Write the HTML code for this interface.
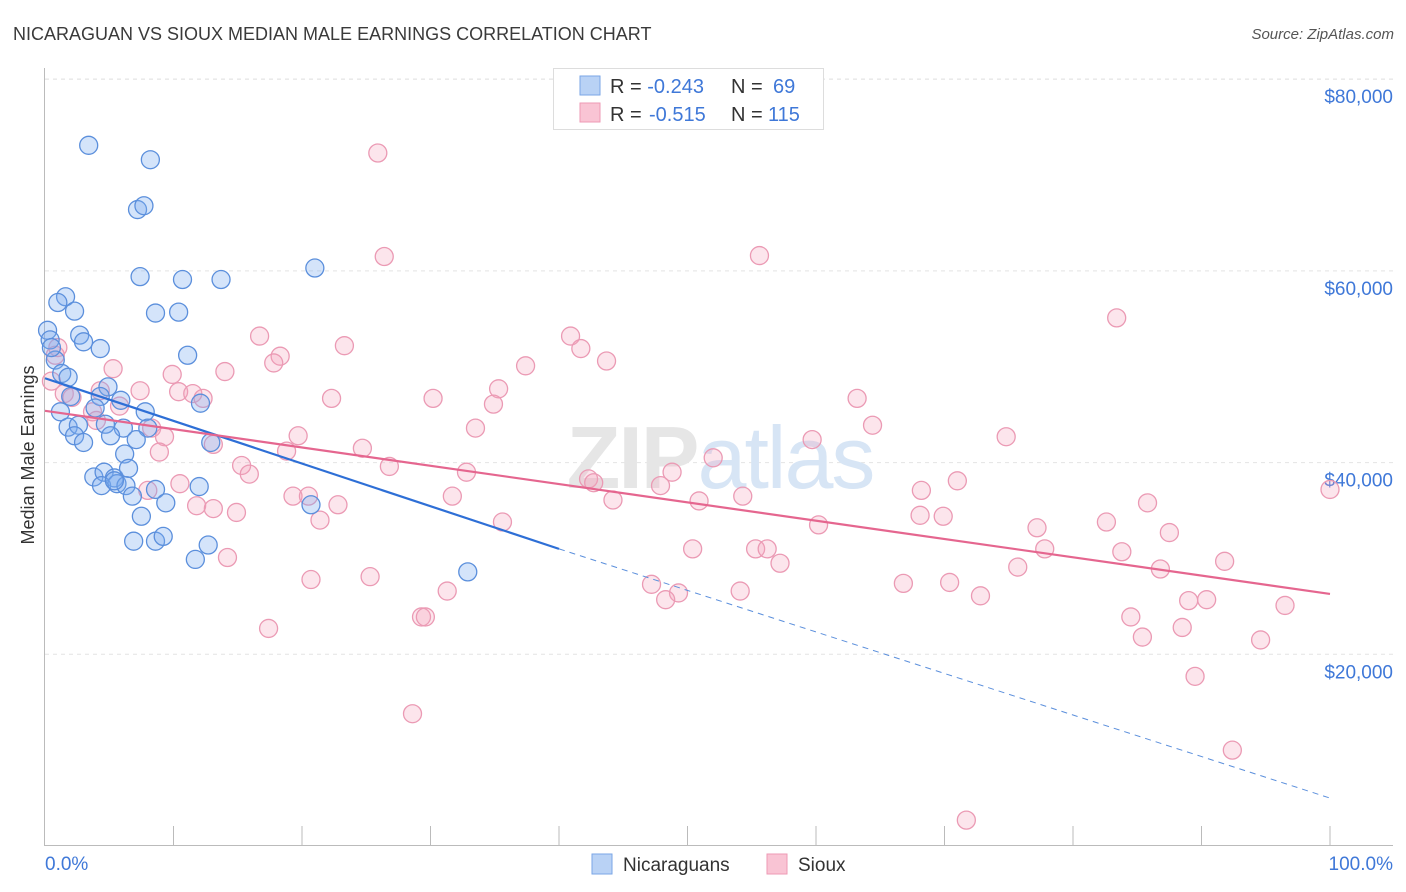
<!DOCTYPE html>
<html><head><meta charset="utf-8"><style>
body{margin:0;background:#fff;font-family:"Liberation Sans",sans-serif}
svg{display:block}
</style></head><body>
<svg id="chart" width="1406" height="892" viewBox="0 0 1406 892">
<text x="13" y="40" font-size="18" fill="#3a3a3a">NICARAGUAN VS SIOUX MEDIAN MALE EARNINGS CORRELATION CHART</text>
<text x="1394" y="39" font-size="15" font-style="italic" fill="#555" text-anchor="end">Source: ZipAtlas.com</text>
<g id="grid"></g>
<text x="720" y="488" font-size="88" text-anchor="middle" fill="#e6e6e6" font-weight="bold" letter-spacing="-2">ZIP<tspan fill="#d7e5f5" font-weight="normal">atlas</tspan></text>
<g id="axes"></g>
<g id="pinkPts"></g>
<g id="bluePts"></g>
<g id="lines"></g>
<text transform="translate(34,455) rotate(-90)" font-size="18" fill="#333" text-anchor="middle">Median Male Earnings</text>
<g>
<rect x="553.5" y="68.5" width="270" height="61" fill="#fff" stroke="#ddd"/>
<rect x="580" y="76" width="20" height="19" fill="#b9d2f5" stroke="#7aa6e6"/>
<rect x="580" y="103" width="20" height="19" fill="#f9c4d4" stroke="#ee9ab4"/>
<text x="610" y="93" font-size="20" fill="#333">R = <tspan fill="#3f78d8">-0.243</tspan><tspan x="731">N = </tspan><tspan x="773" fill="#3f78d8">69</tspan></text>
<text x="610" y="121" font-size="20" fill="#333">R = <tspan x="649" fill="#3f78d8">-0.515</tspan><tspan x="731">N = </tspan><tspan x="768" fill="#3f78d8">115</tspan></text>
</g>
<g>
<rect x="592" y="854" width="20" height="20" fill="#b9d2f5" stroke="#7aa6e6"/>
<text x="623" y="871" font-size="19" fill="#333">Nicaraguans</text>
<rect x="767" y="854" width="20" height="20" fill="#f9c4d4" stroke="#ee9ab4"/>
<text x="798" y="871" font-size="19" fill="#333">Sioux</text>
</g>
</svg>
<script>
const yTicks=[20000,40000,60000,80000];
const yTickLabels=["$20,000","$40,000","$60,000","$80,000"];
const xTickLabels=["0.0%","100.0%"];
const blueX=[3.4,8.2,7.2,7.7,7.4,10.7,13.7,21.0,1.6,1.0,2.3,8.6,10.4,0.2,0.4,2.7,3.0,4.3,11.1,0.8,1.3,1.8,4.9,2.0,4.3,5.9,12.1,1.2,3.9,7.8,1.8,2.6,4.7,6.1,8.0,2.3,3.0,5.1,7.1,12.9,6.2,3.8,4.6,5.4,6.5,4.4,5.6,6.3,8.6,12.0,6.8,9.4,20.7,7.5,6.9,8.6,9.2,12.7,11.7,32.9,5.4,0.5];
const blueY=[73.1,71.6,66.4,66.8,59.4,59.1,59.1,60.3,57.3,56.7,55.8,55.6,55.7,53.8,52.8,53.3,52.6,51.9,51.2,50.7,49.3,48.9,47.9,46.9,46.9,46.5,46.2,45.3,45.7,45.3,43.7,43.9,44.0,43.6,43.6,42.8,42.1,42.8,42.4,42.1,40.9,38.5,39.0,38.4,39.4,37.6,37.8,37.6,37.2,37.5,36.5,35.8,35.6,34.4,31.8,31.8,32.3,31.4,29.9,28.6,38.1,52.0];
const pinkX=[25.9,26.4,55.6,83.4,16.7,23.3,18.3,17.8,40.9,41.7,43.7,37.4,0.8,5.3,9.9,14.0,0.5,7.4,10.4,11.5,12.3,35.3,22.3,30.2,34.9,63.2,1.5,2.1,3.7,5.8,4.0,8.3,9.3,33.5,64.4,59.7,74.8,19.7,13.1,24.7,8.9,18.8,15.3,15.9,26.8,32.8,48.8,52.0,42.3,42.7,47.9,10.5,8.0,71.0,68.2,100,19.3,20.5,31.7,44.2,50.9,54.3,85.8,11.8,13.1,14.9,22.8,21.4,35.6,68.1,69.9,60.2,77.2,82.6,87.5,50.4,55.3,56.2,77.8,83.8,14.2,57.2,75.7,91.8,86.8,20.7,25.3,47.2,66.8,70.4,31.3,49.3,54.1,72.8,48.3,89.0,90.4,96.5,29.3,29.6,84.5,17.4,88.5,85.4,94.6,89.5,28.6,92.4,71.7,4.3,1.0];
const pinkY=[72.3,61.5,61.6,55.1,53.2,52.2,51.1,50.4,53.2,51.9,50.6,50.1,51.2,49.8,49.2,49.5,48.5,47.5,47.4,47.2,46.7,47.7,46.7,46.7,46.1,46.7,47.2,46.8,45.3,45.9,44.4,43.6,42.7,43.6,43.9,42.4,42.7,42.8,41.9,41.5,41.1,41.2,39.7,38.8,39.6,39.0,39.0,40.5,38.3,37.9,37.6,37.8,37.1,38.1,37.1,37.2,36.5,36.5,36.5,36.1,36.0,36.5,35.8,35.5,35.2,34.8,35.6,34.0,33.8,34.5,34.4,33.5,33.2,33.8,32.7,31.0,31.0,31.0,31.0,30.7,30.1,29.5,29.1,29.7,28.9,27.8,28.1,27.3,27.4,27.5,26.6,26.4,26.6,26.1,25.7,25.6,25.7,25.1,23.9,23.9,23.9,22.7,22.8,21.8,21.5,17.7,13.8,10.0,2.7,47.5,52.0];
const blueTrend=[[0,48.8],[40,31.0],[100,5.0]];
const pinkTrend=[[0,45.4],[100,26.3]];
const NS="http://www.w3.org/2000/svg";
const X=v=>45+v*12.85;
const Y=v=>846-v*9.585; // v in thousands
function mk(tag,attrs,parent){const e=document.createElementNS(NS,tag);for(const k in attrs)e.setAttribute(k,attrs[k]);parent.appendChild(e);return e;}
const grid=document.getElementById('grid'),axes=document.getElementById('axes');
yTicks.forEach((t,i)=>{
 const l=mk('line',{x1:45,x2:1393,y1:Y(t/1000),y2:Y(t/1000),stroke:'#e4e4e4','stroke-dasharray':'4,4'},grid);
 
 
 const tx=mk('text',{x:1393,y:Y(t/1000)+24,'font-size':19,fill:'#3f78d8','text-anchor':'end'},axes);
 tx.textContent=yTickLabels[i];
 
 
});
const tl=mk('line',{x1:45,x2:1393,y1:79,y2:79,stroke:'#e4e4e4','stroke-dasharray':'4,4'},grid);


const ya=mk('line',{x1:44.5,x2:44.5,y1:68,y2:846,stroke:'#bbb'},axes);


const xa=mk('line',{x1:44,x2:1393,y1:845.5,y2:845.5,stroke:'#bbb'},axes);


for(let i=1;i<=10;i++){const t=mk('line',{x1:X(i*10),x2:X(i*10),y1:826,y2:846,stroke:'#bbb'},axes);
 
 }
const x0=mk('text',{x:45,y:870,'font-size':19,fill:'#3f78d8'},axes);x0.textContent=xTickLabels[0];


const x1=mk('text',{x:1393,y:870,'font-size':19,fill:'#3f78d8','text-anchor':'end'},axes);x1.textContent=xTickLabels[1];


const pg=document.getElementById('pinkPts');
pinkX.forEach((v,i)=>{const c=mk('circle',{cx:X(v),cy:Y(pinkY[i]),r:9,fill:'rgba(245,160,188,0.28)',stroke:'#eb9ab4','stroke-width':1.3},pg);
 
 });
const bg=document.getElementById('bluePts');
blueX.forEach((v,i)=>{const c=mk('circle',{cx:X(v),cy:Y(blueY[i]),r:9,fill:'rgba(120,170,240,0.32)',stroke:'#5b8fdc','stroke-width':1.3},bg);
 
 });
const lg=document.getElementById('lines');
const b1=mk('line',{x1:X(blueTrend[0][0]),y1:Y(blueTrend[0][1]),x2:X(blueTrend[1][0]),y2:Y(blueTrend[1][1]),stroke:'#2e6fd6','stroke-width':2.2},lg);


const b2=mk('line',{x1:X(blueTrend[1][0]),y1:Y(blueTrend[1][1]),x2:X(blueTrend[2][0]),y2:Y(blueTrend[2][1]),stroke:'#5b8fdc','stroke-width':1,'stroke-dasharray':'6,5'},lg);


const p1=mk('line',{x1:X(pinkTrend[0][0]),y1:Y(pinkTrend[0][1]),x2:X(pinkTrend[1][0]),y2:Y(pinkTrend[1][1]),stroke:'#e5668f','stroke-width':2.2},lg);


</script>
</body></html>
